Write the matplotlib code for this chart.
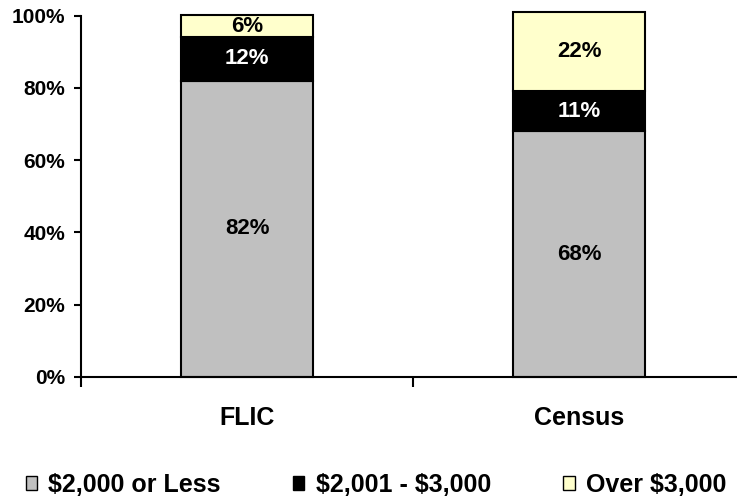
import matplotlib
matplotlib.use("Agg")
import matplotlib.pyplot as plt
from matplotlib.patches import Patch
import numpy as np

plt.rcParams['font.family'] = ['Liberation Sans', 'DejaVu Sans']
plt.rcParams['font.weight'] = 'bold'
plt.rcParams['text.parse_math'] = False

categories = ["FLIC", "Census"]
series_names = ["$2,000 or Less", "$2,001 - $3,000", "Over $3,000"]
low = [82, 68]
mid = [12, 11]
high = [6, 22]
colors = ["#C0C0C0", "#000000", "#FFFFCC"]
label_colors = ["black", "white", "black"]
y_ticks = [0, 20, 40, 60, 80, 100]

fig = plt.figure(figsize=(7.37, 4.96), dpi=100)
ax = fig.add_axes([81 / 737, 119 / 496, 664 / 737, 361.5 / 496])

x = np.arange(len(categories))
width = 0.4
bottom = np.zeros(len(categories))
for vals, col, lc in zip([low, mid, high], colors, label_colors):
    vals = np.array(vals, dtype=float)
    ax.bar(x, vals, width, bottom=bottom, color=col, edgecolor="black",
           linewidth=1.5, clip_on=False, zorder=2)
    for xi, b, v in zip(x, bottom, vals):
        ax.text(xi, b + v / 2, f"{int(v)}%", ha="center", va="center",
                color=lc, fontsize=16, fontweight="bold", zorder=3)
    bottom += vals

ax.set_xlim(-0.5, 1.5)
ax.set_ylim(0, 100)
ax.set_yticks(y_ticks)
ax.set_yticklabels([f"{t}%" for t in y_ticks], fontsize=15, fontweight="bold")
ax.tick_params(axis="y", direction="out", length=5, width=1.5, pad=6.5)

# category boundaries carry the ticks; labels sit under each bar
ax.set_xticks([-0.5, 0.5, 1.5])
ax.set_xticklabels([])
ax.tick_params(axis="x", which="major", direction="out", length=7, width=1.5)
ax.set_xticks(x, minor=True)
ax.set_xticklabels(categories, minor=True, fontsize=18, fontweight="bold")
ax.tick_params(axis="x", which="minor", length=0, pad=21)

for side in ["top", "right"]:
    ax.spines[side].set_visible(False)
for side in ["left", "bottom"]:
    ax.spines[side].set_linewidth(1.5)

handles = [Patch(facecolor=c, edgecolor="black", linewidth=1.0) for c in colors]
fig.legend(handles, series_names, loc="center", bbox_to_anchor=(0.51, 0.022),
           ncol=3, frameon=False, prop={"weight": "bold", "size": 18},
           handlelength=0.45, handleheight=0.45, handletextpad=0.45,
           columnspacing=2.9, borderpad=0, borderaxespad=0)

fig.savefig("out.png", dpi=100)
